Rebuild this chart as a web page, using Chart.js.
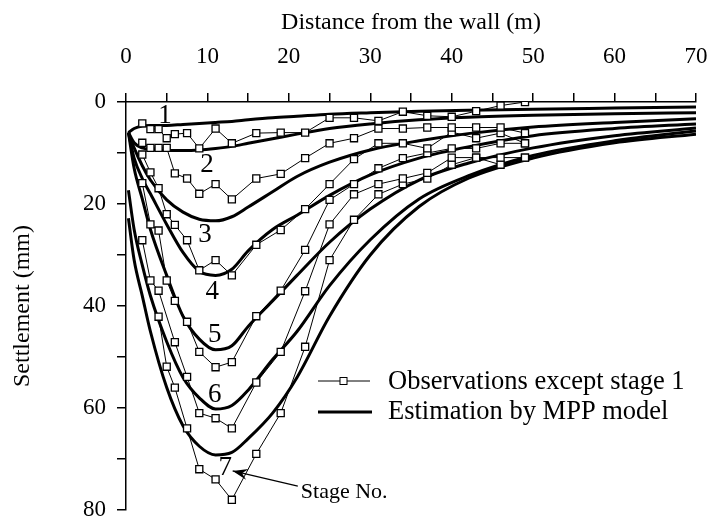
<!DOCTYPE html>
<html><head><meta charset="utf-8">
<script src="https://cdn.jsdelivr.net/npm/chart.js@4"></script>
<style>html,body{margin:0;padding:0;background:#fff}#wrap{width:714px;height:529px;position:relative}</style>
</head><body><div id="wrap"><canvas id="c" width="714" height="529"></canvas></div>
<script>
// ---------- data ----------
const obsX = [2,3,4,5,6,7.5,9,11,13,16,19,22,25,28,31,34,37,40,43,46,49];
const obsStage2 = [4.2,5.3,5.3,7.1,6.3,6.1,9.1,5.2,8.1,6.1,6.0,6.0,3.1,3.1,3.7,1.9,2.7,2.9,1.8,0.7,0.0];
const obsStage3 = [8.0,9.0,9.0,9.0,14.0,15.0,18.0,16.1,19.1,15.0,14.1,11.0,8.1,7.1,5.2,5.2,5.0,5.0,5.0,5.0,6.1];
const obsStage4 = [10.3,13.8,16.9,22.0,24.1,27.1,33.0,31.0,34.0,28.0,25.1,21.0,16.1,11.2,8.1,8.1,9.1,5.9,7.1,6.1,8.1];
const obsStage5 = [15.9,24.0,25.2,35.0,39.0,43.1,49.0,52.0,51.0,42.0,37.0,29.0,19.2,16.1,13.0,11.0,10.0,9.1,9.1,8.1,8.1];
const obsStage6 = [27.1,35.0,37.0,null,47.1,53.9,61.0,62.0,64.0,55.0,49.0,37.1,24.0,18.1,16.1,15.0,13.9,10.9,10.9,10.9,10.9];
const obsStage7 = [null,null,42.1,51.9,56.0,64.0,72.0,74.0,78.0,69.0,61.0,48.0,31.0,23.1,18.1,16.1,15.0,12.3,10.9,12.3,10.9];

const estX = [0.3,1,2,3,5,7,9,11,13,15,18,21,25,30,36,42,50,60,70];
const estStage1 = [6.0,5.2,4.7,4.6,4.6,4.4,4.2,4.0,3.8,3.5,3.1,2.8,2.4,2.1,1.8,1.6,1.4,1.2,1.0];
const estStage2 = [6.0,8.0,9.0,9.3,9.5,9.5,9.4,9.1,8.7,8.1,7.2,6.3,5.2,4.3,3.5,3.0,2.6,2.3,2.1];
const estStage3 = [6.0,9.0,12.5,15.3,19.2,21.6,23.0,23.3,22.5,20.6,17.6,14.6,11.8,9.4,7.6,6.2,4.9,4.0,3.3];
const estStage4 = [6.0,11.0,15.0,18.0,24.0,29.5,33.2,34.0,32.8,29.2,25.0,22.2,18.3,14.3,11.0,8.8,6.6,5.2,4.3];
const estStage5 = [6.0,13.0,19.0,25.0,34.0,42.0,46.5,48.6,47.8,44.0,39.0,34.0,27.5,21.0,15.3,12.0,9.0,6.6,5.1];
const estStage6 = [17.3,25.0,32.0,38.0,47.0,54.0,58.0,60.2,59.5,56.5,50.5,45.0,36.0,27.0,19.0,14.5,10.5,7.6,5.7];
const estStage7 = [22.8,31.0,38.0,45.0,56.0,63.5,67.5,69.2,68.7,66.0,61.0,54.0,42.0,30.0,20.5,15.0,11.0,8.0,6.3];

const xTickLabels = [0,10,20,30,40,50,60,70];
const yTickLabels = [0,20,40,60,80];
const stageNames = ['1','2','3','4','5','6','7'];
const xTitle = 'Distance from the wall (m)';
const yTitle = 'Settlement (mm)';
const legendObs = 'Observations except stage 1';
const legendEst = 'Estimation by MPP model';
const stageNoText = 'Stage No.';

// ---------- layout / style ----------
const FONT = "'Liberation Serif', 'Times New Roman', serif";
const stageLabelPos = [[4.8,2.7],[9.95,12.4],[9.7,26.1],[10.6,37.3],[10.9,45.7],[10.9,57.5],[12.2,71.8]];

function pts(xs, ys){ const a=[]; xs.forEach((x,i)=>{ a.push({x:x, y:ys[i]}); }); return a; }

const obsSeries = [obsStage2,obsStage3,obsStage4,obsStage5,obsStage6,obsStage7];
const estSeries = [estStage1,estStage2,estStage3,estStage4,estStage5,estStage6,estStage7];

const datasets = [];
estSeries.forEach((s,i)=>datasets.push({
  label:'Est '+(i+1), data:pts(estX,s), borderColor:'#000', borderWidth:3,
  pointRadius:0, cubicInterpolationMode:'monotone', fill:false, order:2
}));
obsSeries.forEach((s,i)=>datasets.push({
  label:'Obs '+(i+2), data:pts(obsX,s), borderColor:'#000', borderWidth:1,
  pointStyle:'rect', pointRadius:5, pointBorderWidth:1.3, pointBackgroundColor:'#fff',
  pointBorderColor:'#000', tension:0, spanGaps:true, fill:false, order:1
}));

const annot = {
  id:'annot',
  afterDraw(chart){
    const ctx = chart.ctx, xs = chart.scales.x, ys = chart.scales.y;
    ctx.save();
    ctx.fillStyle = '#000';
    ctx.font = '27px ' + FONT;
    ctx.textAlign = 'center'; ctx.textBaseline = 'middle';
    stageNames.forEach((t,i)=>{
      ctx.fillText(t, xs.getPixelForValue(stageLabelPos[i][0]), ys.getPixelForValue(stageLabelPos[i][1]));
    });
    const tx = xs.getPixelForValue(21.1), ty = ys.getPixelForValue(75.3);
    const hx = xs.getPixelForValue(13.1), hy = ys.getPixelForValue(72.35);
    ctx.strokeStyle = '#000'; ctx.lineWidth = 1.3;
    ctx.beginPath(); ctx.moveTo(tx,ty); ctx.lineTo(hx,hy); ctx.stroke();
    const ang = Math.atan2(hy-ty, hx-tx), L = 16, W = 0.35;
    ctx.beginPath();
    ctx.moveTo(hx,hy);
    ctx.lineTo(hx - L*Math.cos(ang-W), hy - L*Math.sin(ang-W));
    ctx.lineTo(hx - L*0.6*Math.cos(ang), hy - L*0.6*Math.sin(ang));
    ctx.lineTo(hx - L*Math.cos(ang+W), hy - L*Math.sin(ang+W));
    ctx.closePath(); ctx.fill();
    ctx.font = '22px ' + FONT; ctx.textAlign = 'left';
    ctx.fillText(stageNoText, tx + 3, ys.getPixelForValue(76.6));
    const lx0 = 318, lx1 = 370, r1 = 381, r2 = 412;
    ctx.lineWidth = 1;
    ctx.beginPath(); ctx.moveTo(lx0, r1); ctx.lineTo(lx1, r1); ctx.stroke();
    ctx.fillStyle = '#fff'; ctx.fillRect(340, r1-3.5, 7, 7);
    ctx.strokeRect(340, r1-3.5, 7, 7);
    ctx.lineWidth = 3;
    ctx.beginPath(); ctx.moveTo(lx0, r2); ctx.lineTo(lx1+2, r2); ctx.stroke();
    ctx.fillStyle = '#000'; ctx.font = '26.5px ' + FONT;
    ctx.fillText(legendObs, 388, r1+1);
    ctx.fillText(legendEst, 388, r2);
    ctx.restore();
  }
};

new Chart(document.getElementById('c'), {
  type:'line',
  data:{ datasets },
  options:{
    responsive:false, animation:false, devicePixelRatio:1,
    layout:{ padding:{ left:0, right:18, top:0, bottom:19 } },
    plugins:{ legend:{display:false}, tooltip:{enabled:false} },
    scales:{
      x:{
        type:'linear', position:'top', min:0, max:70,
        afterFit(s){ s.height = 102; s.paddingLeft = 0; s.paddingRight = 0; },
        ticks:{ stepSize:5, autoSkip:false, maxRotation:0, padding:22, color:'#000',
          font:{ family:FONT, size:23 },
          callback:(v)=> xTickLabels.includes(v) ? String(v) : '' },
        grid:{ display:true, drawOnChartArea:false, drawTicks:true, tickLength:9, color:'#000', lineWidth:1.5 },
        border:{ display:true, color:'#000', width:1.5 },
        title:{ display:true, text:xTitle, color:'#000', font:{ family:FONT, size:24 }, padding:{top:8,bottom:0} }
      },
      y:{
        type:'linear', position:'left', min:0, max:80, reverse:true,
        afterFit(s){ s.width = 126; s.paddingTop = 0; s.paddingBottom = 0; },
        ticks:{ stepSize:10, autoSkip:false, padding:11, color:'#000',
          font:{ family:FONT, size:23 },
          callback:(v)=> yTickLabels.includes(v) ? String(v) : '' },
        grid:{ display:true, drawOnChartArea:false, drawTicks:true, tickLength:9, color:'#000', lineWidth:1.5 },
        border:{ display:true, color:'#000', width:1.5 },
        title:{ display:true, text:yTitle, color:'#000', font:{ family:FONT, size:24 }, padding:{top:8,bottom:0} }
      }
    }
  },
  plugins:[annot]
});
</script></body></html>
